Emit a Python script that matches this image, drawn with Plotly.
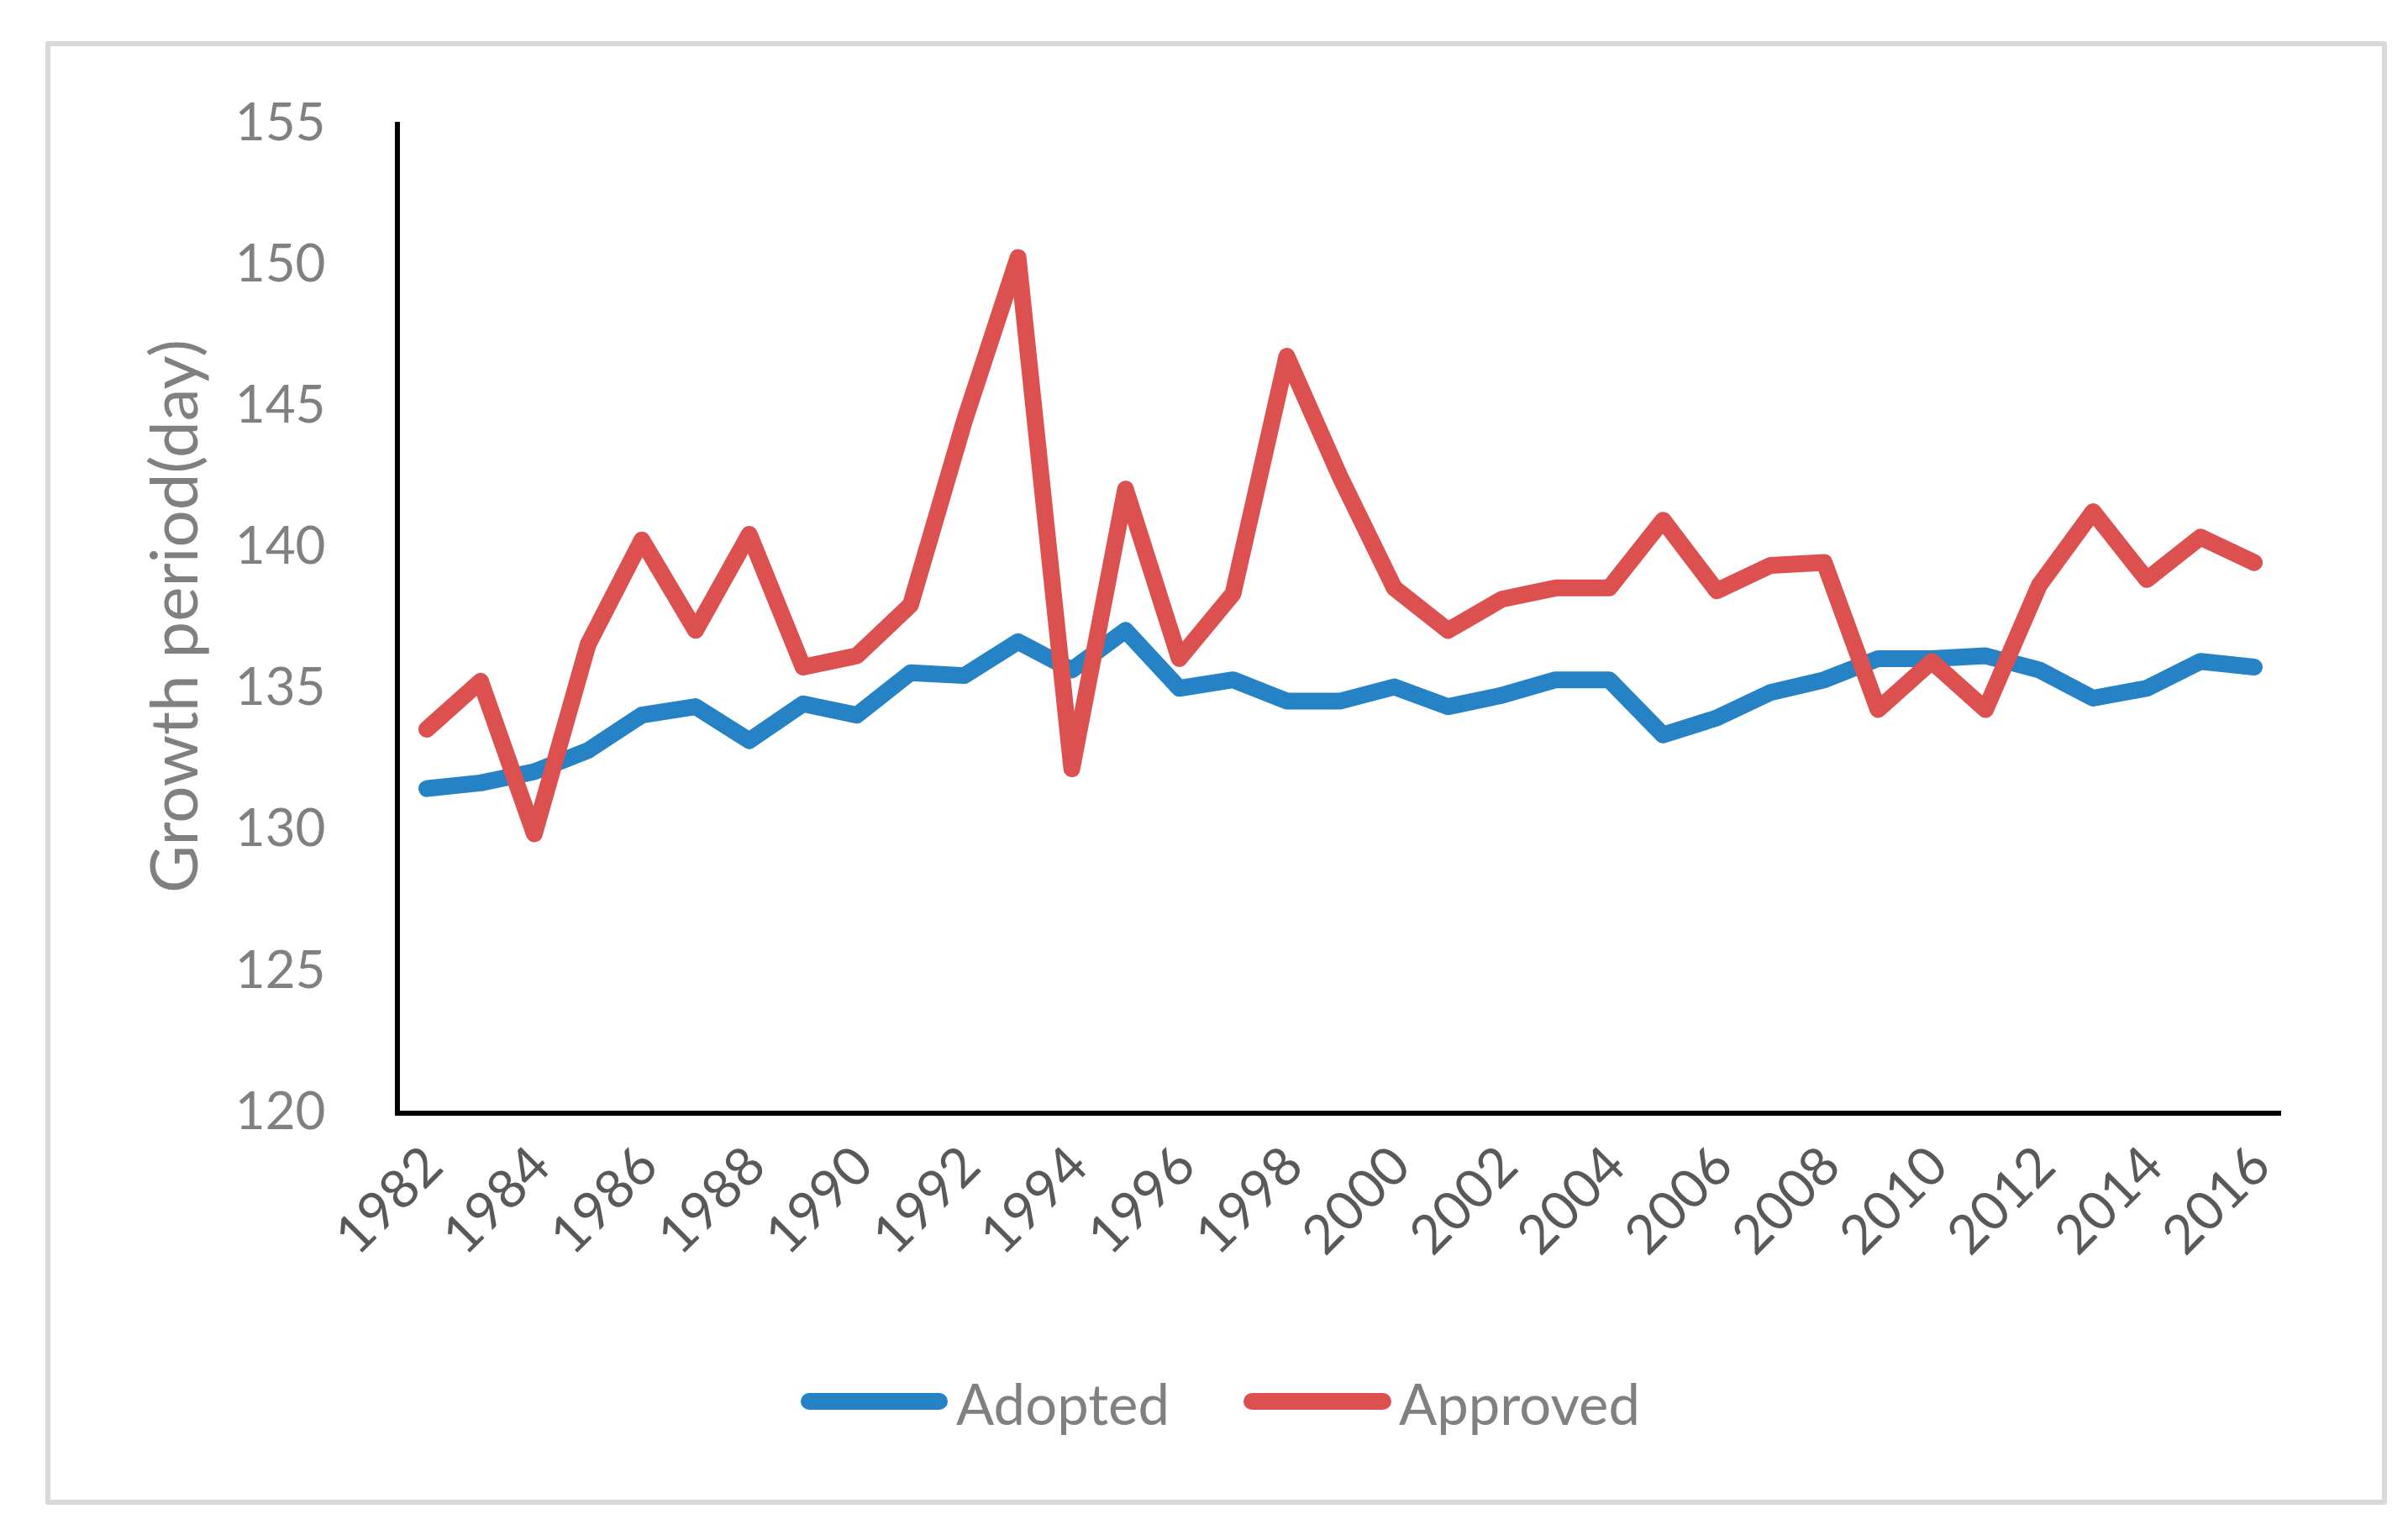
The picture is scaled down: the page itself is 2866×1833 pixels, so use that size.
import plotly.graph_objects as go

years = list(range(1982, 2017))
adopted = [131.4, 131.6, 132.0, 132.75, 134.0, 134.3, 133.1, 134.4, 134.0, 135.5,
           135.4, 136.6, 135.6, 137.0, 134.95, 135.25, 134.5, 134.5, 135.0, 134.3,
           134.7, 135.25, 135.25, 133.3, 133.9, 134.8, 135.25, 136.0, 136.0, 136.1,
           135.6, 134.6, 134.95, 135.9, 135.7]
approved = [133.5, 135.2, 129.8, 136.5, 140.2, 137.0, 140.4, 135.7, 136.1, 137.9,
            144.4, 150.2, 132.1, 142.0, 136.0, 138.3, 146.7, 142.4, 138.5, 137.0,
            138.1, 138.5, 138.5, 140.9, 138.4, 139.3, 139.4, 134.2, 135.9, 134.2,
            138.6, 141.2, 138.8, 140.3, 139.4]
series_names = ["Adopted", "Approved"]
tick_years = list(range(1982, 2017, 2))
y_ticks = [120, 125, 130, 135, 140, 145, 150, 155]

W, H = 2866, 1833
L, R, T, B = 468, 2707, 137, 1314
pw, ph = R - L, B - T

def px_x(v):
    return (v - L) / pw

def px_y(v):
    return (B - v) / ph

BLUE = "#2582C4"
RED = "#DD5050"
colors = [BLUE, RED]
FONT = "Lato"
LW = 20

fig = go.Figure()
for name, vals, col in zip(series_names, [adopted, approved], colors):
    fig.add_trace(go.Scatter(x=years, y=vals, mode="lines", name=name,
                             line=dict(color=col, width=LW), showlegend=False))

shapes = [dict(type="rect", xref="paper", yref="paper",
               x0=px_x(49), x1=px_x(2830), y0=px_y(1780), y1=px_y(44),
               line=dict(color="#D9D9D9", width=6), layer="below")]
annotations = []
# custom legend (Excel-style long thick sample lines)
legend_line_x = [(955, 1110), (1482, 1638)]
legend_text_x = [1128, 1655]
legend_y = 1660
for name, col, (lx0, lx1), tx in zip(series_names, colors, legend_line_x, legend_text_x):
    shapes.append(dict(type="line", xref="paper", yref="paper",
                       x0=px_x(lx0), x1=px_x(lx1), y0=px_y(legend_y), y1=px_y(legend_y),
                       line=dict(color=col, width=LW)))
    annotations.append(dict(xref="paper", yref="paper", x=px_x(tx), y=px_y(legend_y + 2),
                            xanchor="left", yanchor="middle", showarrow=False, text=name,
                            font=dict(size=67, color="#808080", family=FONT)))

fig.update_layout(
    width=W, height=H,
    margin=dict(l=L, r=W - R, t=T, b=H - B, autoexpand=False),
    paper_bgcolor="white", plot_bgcolor="white",
    font=dict(family=FONT, color="#808080"),
    showlegend=False,
    shapes=shapes,
    annotations=annotations,
)
fig.update_xaxes(range=[1981.5, 2016.5], tickmode="array", tickvals=tick_years,
                 ticktext=[str(v) for v in tick_years], tickangle=-45,
                 tickfont=dict(size=64, color="#595959", family=FONT),
                 showgrid=False, zeroline=False, showline=True, linecolor="black",
                 linewidth=6, ticks="", ticklabelstandoff=-4)
fig.update_yaxes(range=[120, 155], tickmode="array", tickvals=y_ticks,
                 tickfont=dict(size=62, color="#808080", family=FONT),
                 showgrid=False, zeroline=False, showline=True, linecolor="black",
                 linewidth=6, ticks="", ticklabelstandoff=70,
                 title=dict(text="Growth period(day)", font=dict(size=78, color="#808080", family=FONT),
                            standoff=20))

post = """
function roundIt(){
  document.querySelectorAll('.scatterlayer path.js-line, .shapelayer path').forEach(function(p){
    p.style.strokeLinejoin='round'; p.style.strokeLinecap='round';
  });
}
roundIt();
var gd = document.getElementsByClassName('plotly-graph-div')[0];
if (gd && gd.on) { gd.on('plotly_afterplot', roundIt); }
setTimeout(roundIt, 50);
"""
fig.write_html("out.html", post_script=post)
